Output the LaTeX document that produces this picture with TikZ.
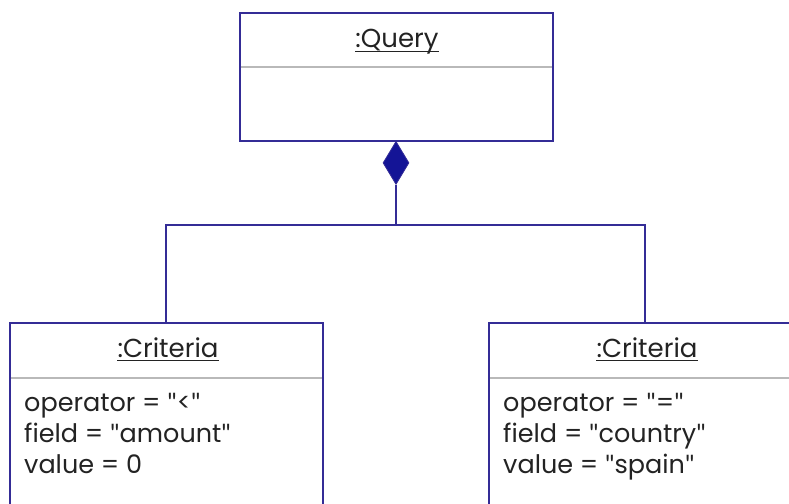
\documentclass[tikz,border=0pt]{standalone}
\usepackage{fontspec}
\setmainfont{Poppins}
\newfontfamily\qfont{Lato}
\usetikzlibrary{shapes.geometric}
\definecolor{umlblue}{RGB}{52,44,150}
\definecolor{diafill}{RGB}{20,20,150}
\definecolor{sepgray}{RGB}{185,185,185}
\definecolor{txt}{RGB}{35,35,35}
\newcommand{\qq}{{\qfont\symbol{34}}}
\tikzset{
  box/.style={draw=umlblue, line width=2pt, fill=white},
  sep/.style={draw=sepgray, line width=1.5pt},
  conn/.style={draw=umlblue, line width=1.4pt},
  uline/.style={draw=txt, line width=1.3pt},
  title/.style={font=\fontsize{26}{30}\selectfont, text=txt, anchor=base, inner sep=0pt},
  attr/.style={font=\fontsize{25.5}{30}\selectfont, text=txt, anchor=base west, inner sep=0pt},
  comp/.style={diamond, draw=umlblue, fill=diafill, line width=0.8pt, minimum width=26pt, minimum height=43pt, inner sep=0pt, aspect=0.6}
}
\begin{document}
\begin{tikzpicture}[x=1pt,y=-1pt]
\useasboundingbox (0,0) rectangle (789,503);
\clip (0,0) rectangle (789,503);
% Query box
\draw[box] (240,13) rectangle (553,141);
\draw[sep] (241,67) -- (552,67);
\node[title] (qt) at (397,48) {:Query};
\draw[uline] ([yshift=-3.5pt]qt.base west) -- ([yshift=-3.5pt]qt.base east);
\coordinate (qb) at (396,141);
% diamond
\node[comp, anchor=north] (dia) at (qb) {};
\coordinate (junc) at (396,225);
\coordinate (lj) at (166,225);
\coordinate (rj) at (645,225);
% left criteria
\draw[box] (10,323) rectangle (323,520);
\draw[sep] (11,378) -- (322,378);
\coordinate (lt) at (166,323);
\node[title] (lct) at (168,357) {:Criteria};
\draw[uline] ([yshift=-3.5pt]lct.base west) -- ([yshift=-3.5pt]lct.base east);
\node[attr] (la1) at (24,411) {operator = \qq<\qq};
\node[attr] (la2) at (24,442) {field = \qq amount\qq};
\node[attr] (la3) at (24,473) {value = 0};
% right criteria
\draw[box] (489,323) rectangle (802,520);
\draw[sep] (490,378) -- (801,378);
\coordinate (rt) at (645,323);
\node[title] (rct) at (647,357) {:Criteria};
\draw[uline] ([yshift=-3.5pt]rct.base west) -- ([yshift=-3.5pt]rct.base east);
\node[attr] (ra1) at (503,411) {operator = \qq=\qq};
\node[attr] (ra2) at (503,442) {field = \qq country\qq};
\node[attr] (ra3) at (503,473) {value = \qq spain\qq};
% connectors
\draw[conn] (dia.south) -- (junc);
\draw[conn] (lt) -- (lj) -- (rj) -- (rt);
\end{tikzpicture}
\end{document}
